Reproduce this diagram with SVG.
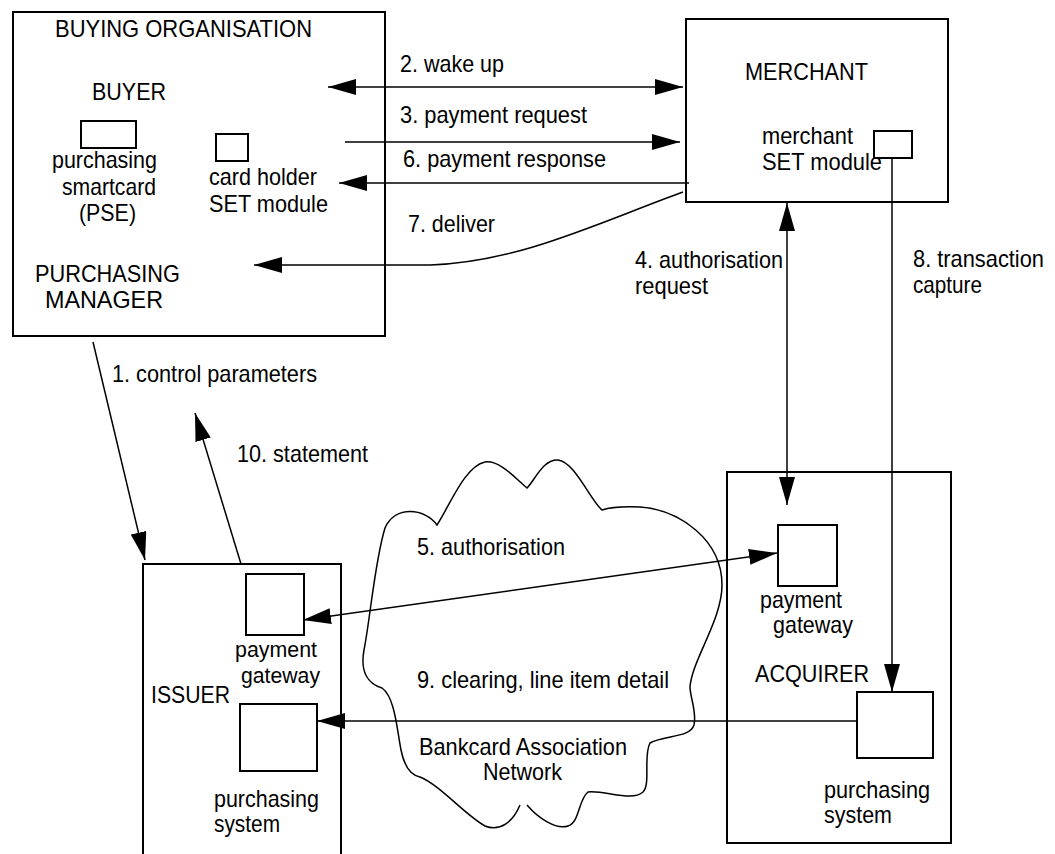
<svg xmlns="http://www.w3.org/2000/svg" width="1055" height="854" viewBox="0 0 1055 854">
<defs>
<marker id="ah" viewBox="0 0 28 16" refX="28" refY="8" markerWidth="28" markerHeight="16" markerUnits="userSpaceOnUse" orient="auto-start-reverse">
<path d="M0,0 L28,8 L0,16 z" fill="#000"/>
</marker>
<style>
text{font-family:"Liberation Sans",Arial,sans-serif;font-size:24px;fill:#000}
.t22{font-size:22px}
.box{fill:none;stroke:#000;stroke-width:2}
.sm{fill:#fff;stroke:#000;stroke-width:2}
.ln{fill:none;stroke:#000;stroke-width:1.5}
.e{marker-end:url(#ah)}
.b{marker-start:url(#ah);marker-end:url(#ah)}
</style>
</defs>
<rect width="1055" height="854" fill="#fff"/>

<g id="cloud">
<path class="ln" d="M527,805 C538,818 556,830 568,826 C580,822 578,800 588,792 C605,790 632,802 643,792 C651,784 643,756 650,743 C665,735 690,738 694,725 C697,712 690,697 690,687 C692,660 722,620 722,585 C722,540 680,510 640,507 C620,506 608,508 602,510 C590,500 575,462 558,460 C543,459 535,480 527,488 C515,478 500,460 485,462 C465,466 450,505 437,525 C425,508 395,505 385,528 C375,560 370,620 364,650 C360,672 368,684 382,688 C395,697 397,730 401,750 C404,765 410,775 420,777 C440,785 465,815 485,826 C500,832 513,822 520,805"/>
<text x="419" y="755" textLength="208" lengthAdjust="spacingAndGlyphs">Bankcard Association</text>
<text x="483" y="780" textLength="79" lengthAdjust="spacingAndGlyphs">Network</text>
</g>

<g id="buying-organisation">
<rect class="box" x="13" y="12" width="372" height="324"/>
<text x="55" y="37" textLength="257" lengthAdjust="spacingAndGlyphs">BUYING ORGANISATION</text>
<text x="92" y="100" textLength="74" lengthAdjust="spacingAndGlyphs">BUYER</text>
<rect class="sm" x="81" y="121" width="55" height="27"/>
<text x="52" y="168" textLength="105" lengthAdjust="spacingAndGlyphs">purchasing</text>
<text x="62" y="195" textLength="94" lengthAdjust="spacingAndGlyphs">smartcard</text>
<text x="79" y="221" textLength="57" lengthAdjust="spacingAndGlyphs">(PSE)</text>
<rect class="sm" x="216" y="134" width="32" height="27"/>
<text x="209" y="185" textLength="108" lengthAdjust="spacingAndGlyphs">card holder</text>
<text x="209" y="212" textLength="119" lengthAdjust="spacingAndGlyphs">SET module</text>
<text x="35" y="282" textLength="145" lengthAdjust="spacingAndGlyphs">PURCHASING</text>
<text x="45" y="308" textLength="118" lengthAdjust="spacingAndGlyphs">MANAGER</text>
</g>

<g id="merchant">
<rect class="box" x="686" y="19" width="262" height="183"/>
<text x="745" y="80" textLength="123" lengthAdjust="spacingAndGlyphs">MERCHANT</text>
<text x="762" y="144" textLength="91" lengthAdjust="spacingAndGlyphs">merchant</text>
<text x="762" y="170" textLength="120" lengthAdjust="spacingAndGlyphs">SET module</text>
<rect class="sm" x="874" y="131" width="38" height="27"/>
</g>

<g id="issuer">
<path class="box" d="M143,860 V564 H341 V860"/>
<rect class="sm" x="246" y="574" width="58" height="61"/>
<text class="t22" x="235" y="657" textLength="82" lengthAdjust="spacingAndGlyphs">payment</text>
<text class="t22" x="241" y="683" textLength="79" lengthAdjust="spacingAndGlyphs">gateway</text>
<text x="151" y="703" textLength="79" lengthAdjust="spacingAndGlyphs">ISSUER</text>
<rect class="sm" x="240" y="704" width="77" height="67"/>
<text x="214" y="807" textLength="105" lengthAdjust="spacingAndGlyphs">purchasing</text>
<text x="214" y="832" textLength="66" lengthAdjust="spacingAndGlyphs">system</text>
</g>

<g id="acquirer">
<rect class="box" x="727" y="472" width="224" height="371"/>
<rect class="sm" x="778" y="525" width="59" height="61"/>
<text x="760" y="608" textLength="82" lengthAdjust="spacingAndGlyphs">payment</text>
<text x="773" y="633" textLength="80" lengthAdjust="spacingAndGlyphs">gateway</text>
<text x="755" y="682" textLength="114" lengthAdjust="spacingAndGlyphs">ACQUIRER</text>
<rect class="sm" x="857" y="692" width="76" height="66"/>
<text x="824" y="798" textLength="106" lengthAdjust="spacingAndGlyphs">purchasing</text>
<text x="824" y="823" textLength="68" lengthAdjust="spacingAndGlyphs">system</text>
</g>

<g id="connectors">
<line class="ln b" x1="328" y1="87" x2="683" y2="87"/>
<text x="400" y="72" textLength="104" lengthAdjust="spacingAndGlyphs">2. wake up</text>
<line class="ln e" x1="345" y1="142" x2="680" y2="142"/>
<text x="400" y="123" textLength="187" lengthAdjust="spacingAndGlyphs">3. payment request</text>
<line class="ln e" x1="689" y1="183" x2="339" y2="183"/>
<text x="403" y="167" textLength="203" lengthAdjust="spacingAndGlyphs">6. payment response</text>
<path class="ln e" d="M683,192 C600,222 520,262 430,265 L254,265"/>
<text x="408" y="232" textLength="87" lengthAdjust="spacingAndGlyphs">7. deliver</text>
<line class="ln b" x1="787" y1="203" x2="787" y2="505"/>
<text x="635" y="268" textLength="148" lengthAdjust="spacingAndGlyphs">4. authorisation</text>
<text x="635" y="294" textLength="73" lengthAdjust="spacingAndGlyphs">request</text>
<line class="ln e" x1="892" y1="158" x2="892" y2="692"/>
<text x="913" y="267" textLength="131" lengthAdjust="spacingAndGlyphs">8. transaction</text>
<text x="913" y="293" textLength="69" lengthAdjust="spacingAndGlyphs">capture</text>
<line class="ln e" x1="93" y1="342" x2="145" y2="560"/>
<text x="112" y="382" textLength="205" lengthAdjust="spacingAndGlyphs">1. control parameters</text>
<line class="ln e" x1="241" y1="564" x2="195" y2="413"/>
<text x="237" y="462" textLength="131" lengthAdjust="spacingAndGlyphs">10. statement</text>
<line class="ln b" x1="303" y1="620" x2="777" y2="553"/>
<text x="417" y="555" textLength="148" lengthAdjust="spacingAndGlyphs">5. authorisation</text>
<line class="ln e" x1="857" y1="721" x2="317" y2="721"/>
<text x="417" y="688" textLength="252" lengthAdjust="spacingAndGlyphs">9. clearing, line item detail</text>
</g>
</svg>
